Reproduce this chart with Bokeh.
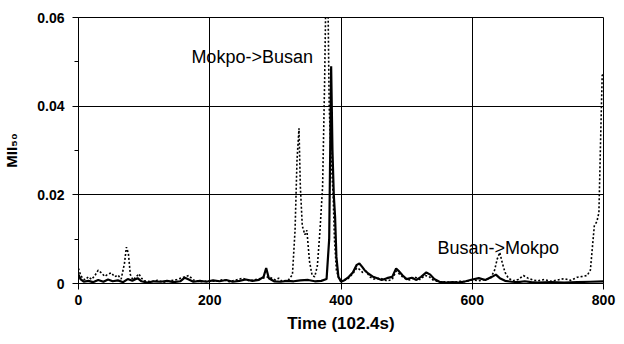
from bokeh.plotting import figure
from bokeh.models import Range1d, FixedTicker, CustomJSTickFormatter, Label, ColumnDataSource
from bokeh.embed import file_html
from bokeh.resources import INLINE

# ---- data ----
mb_x = [0, 3, 6, 10, 15, 20, 25, 30, 35, 40, 45, 50, 55, 60, 65, 70, 73, 76, 79, 83, 88, 92, 96,
        100, 110, 120, 130, 140, 150, 160, 168, 175, 185, 200, 210, 220, 230, 240, 250, 260, 270,
        280, 290, 300, 305, 310, 320, 326, 330, 333, 336, 338, 341, 345, 348, 352, 356, 360, 364,
        368, 372, 375, 377, 380, 382, 385, 388, 390, 393, 397, 402, 410, 418, 424, 428, 433, 438,
        444, 450, 460, 470, 478, 484, 490, 496, 505, 512, 520, 528, 534, 540, 550, 560, 570, 580,
        590, 600, 610, 620, 628, 634, 638, 642, 646, 650, 655, 662, 670, 678, 685, 692, 700, 710,
        720, 730, 740, 750, 760, 768, 775, 780, 783, 786, 790, 793, 796, 798, 800]
mb_y = [0.0034, 0.002, 0.0012, 0.0008, 0.0015, 0.0009, 0.0018, 0.003, 0.0024, 0.0016, 0.0021,
        0.0024, 0.0015, 0.0019, 0.001, 0.0045, 0.0082, 0.0068, 0.002, 0.0008, 0.0015, 0.0022,
        0.0012, 0.0006, 0.0004, 0.0007, 0.0003, 0.0006, 0.0009, 0.0014, 0.0018, 0.0008, 0.0004,
        0.0006, 0.0005, 0.0009, 0.0004, 0.0008, 0.0012, 0.0006, 0.0009, 0.0012, 0.0015, 0.0008,
        0.0012, 0.0005, 0.0008, 0.002, 0.012, 0.028, 0.035, 0.022, 0.013, 0.011, 0.012, 0.005,
        0.0018, 0.0015, 0.004, 0.012, 0.022, 0.045, 0.066, 0.066, 0.04, 0.028, 0.02, 0.01, 0.003,
        0.001, 0.0008, 0.001, 0.0022, 0.0035, 0.0032, 0.0025, 0.0028, 0.0015, 0.001, 0.0012,
        0.0006, 0.0009, 0.0028, 0.002, 0.0012, 0.0008, 0.0015, 0.0009, 0.0018, 0.0016, 0.0008,
        0.0003, 0.0004, 0.0002, 0.0005, 0.0004, 0.0008, 0.0006, 0.0009, 0.0012, 0.003, 0.0055,
        0.007, 0.0045, 0.0025, 0.0012, 0.0006, 0.0009, 0.0018, 0.0012, 0.0008, 0.0006, 0.0009,
        0.0005, 0.0008, 0.0011, 0.0007, 0.0014, 0.0016, 0.0018, 0.003, 0.008, 0.013, 0.014,
        0.016, 0.035, 0.047, 0.047]

bm_x = [0, 3, 8, 15, 22, 30, 38, 45, 52, 60, 68, 75, 82, 90, 96, 105, 115, 125, 135, 145, 155,
        162, 168, 175, 185, 195, 205, 215, 225, 235, 245, 255, 265, 275, 282, 286, 290, 298, 308,
        318, 328, 338, 350, 360, 370, 378, 382, 385, 387, 389, 391, 393, 396, 400, 406, 412, 418,
        424, 428, 432, 436, 442, 448, 455, 462, 470, 478, 484, 488, 494, 500, 508, 515, 522, 530,
        536, 542, 550, 560, 570, 580, 590, 600, 610, 620, 630, 636, 642, 650, 660, 670, 680, 690,
        700, 720, 740, 760, 780, 800]
bm_y = [0.002, 0.001, 0.0004, 0.0006, 0.0003, 0.0008, 0.0004, 0.0009, 0.0005, 0.0007, 0.0003,
        0.001, 0.0006, 0.0012, 0.0005, 0.0002, 0.0005, 0.0004, 0.0006, 0.0003, 0.0005, 0.0013,
        0.0009, 0.0004, 0.0006, 0.0004, 0.0007, 0.0005, 0.0008, 0.0004, 0.0006, 0.0009, 0.0006,
        0.0008, 0.0015, 0.0035, 0.0012, 0.0005, 0.0004, 0.0006, 0.0005, 0.0007, 0.0008, 0.0005,
        0.0006, 0.001, 0.01, 0.049, 0.03, 0.02, 0.015, 0.006, 0.0015, 0.0004, 0.0008, 0.0015,
        0.0025, 0.0042, 0.0045, 0.0038, 0.003, 0.0022, 0.0016, 0.0012, 0.0008, 0.0012, 0.0015,
        0.0034, 0.0028, 0.0018, 0.001, 0.0013, 0.0008, 0.0015, 0.0025, 0.002, 0.001, 0.0004,
        0.0002, 0.0003, 0.0002, 0.0005, 0.0009, 0.0012, 0.0008, 0.0015, 0.002, 0.0012, 0.0006,
        0.0004, 0.0003, 0.0005, 0.0003, 0.0002, 0.0003, 0.0002, 0.0003, 0.0004, 0.0005]

x_ticks = [0, 200, 400, 600, 800]
y_ticks = [0, 0.02, 0.04, 0.06]
y_minor = [0.01, 0.03, 0.05]
x_label = "Time (102.4s)"
y_label = "MII\u2085\u2080"
ann_texts = ["Mokpo->Busan", "Busan->Mokpo"]
ann_x = [172, 547]
ann_y = [0.051, 0.0081]

FONT = "Liberation Sans"

p = figure(width=624, height=344, output_backend="svg", toolbar_location=None,
           x_range=Range1d(0, 800), y_range=Range1d(0, 0.06),
           min_border_left=77, min_border_right=21, min_border_top=17, min_border_bottom=61)
p.background_fill_color = "white"
p.border_fill_color = "white"
p.outline_line_color = "black"
p.outline_line_width = 1

p.line(bm_x, bm_y, line_color="black", line_width=2.2)
p.line(mb_x, mb_y, line_color="black", line_width=1.6, line_dash="2 2")

p.xaxis.ticker = FixedTicker(ticks=x_ticks)
p.yaxis.ticker = FixedTicker(ticks=y_ticks, minor_ticks=y_minor)
p.yaxis.formatter = CustomJSTickFormatter(code="return tick == 0 ? '0' : tick.toFixed(2);")

for ax in (p.xaxis[0], p.yaxis[0]):
    ax.axis_line_color = "black"
    ax.major_tick_line_color = "black"
    ax.major_tick_out = 6
    ax.major_tick_in = 0
    ax.minor_tick_out = 4
    ax.minor_tick_in = 0
    ax.major_label_text_font = FONT
    ax.major_label_text_font_style = "bold"
    ax.major_label_text_font_size = "14px"
    ax.major_label_text_color = "black"
    ax.axis_label_text_font = FONT
    ax.axis_label_text_font_style = "bold"
    ax.axis_label_text_color = "black"

p.xaxis.minor_tick_line_color = None
p.yaxis.minor_tick_line_color = "black"
p.xaxis.major_label_standoff = 5
p.yaxis.major_label_standoff = 8
p.xaxis.axis_label = x_label
p.xaxis.axis_label_text_font_size = "17px"
p.xaxis.axis_label_standoff = 6
p.yaxis.axis_label = y_label
p.yaxis.axis_label_text_font_size = "15px"
p.yaxis.axis_label_standoff = 14

p.xgrid.ticker = FixedTicker(ticks=x_ticks)
p.ygrid.ticker = FixedTicker(ticks=y_ticks)
p.xgrid.grid_line_color = "black"
p.ygrid.grid_line_color = "black"
p.xgrid.grid_line_width = 1
p.ygrid.grid_line_width = 1

for t, xx, yy in zip(ann_texts, ann_x, ann_y):
    p.add_layout(Label(x=xx, y=yy, text=t, text_font=FONT, text_font_size="18px",
                       text_color="black", text_baseline="alphabetic", text_align="left",
                       background_fill_color="white", background_fill_alpha=0.0))

open("out.html", "w").write(file_html(p, INLINE))
